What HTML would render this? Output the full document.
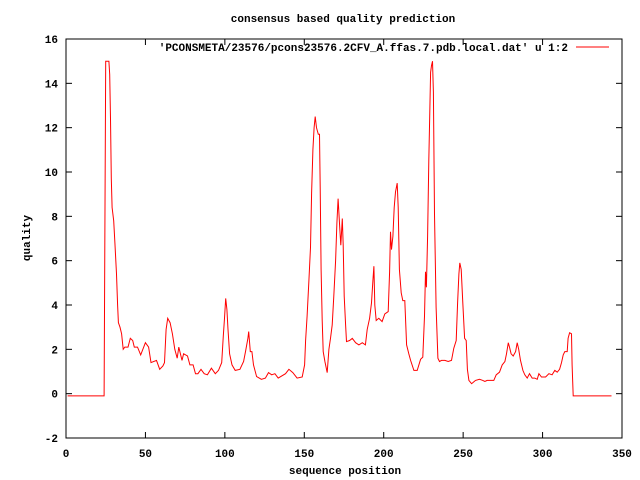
<!DOCTYPE html>
<html><head><meta charset="utf-8"><style>
html,body{margin:0;padding:0;background:#fff}
svg{display:block}
text{font-family:"Liberation Mono",monospace;font-size:11px;font-weight:bold;fill:#000}
</style></head><body>
<svg id="chart" width="640" height="480">
<rect x="0" y="0" width="640" height="480" fill="#fff"/>
<text x="343" y="22" text-anchor="middle">consensus based quality prediction</text>
<text x="345" y="474" text-anchor="middle">sequence position</text>
<text transform="translate(30,238) rotate(-90)" text-anchor="middle">quality</text>
<g id="ticks"></g>
<g>
<text x="568" y="51" text-anchor="end">'PCONSMETA/23576/pcons23576.2CFV_A.ffas.7.pdb.local.dat' u 1:2</text>
<line x1="576" y1="47" x2="609" y2="47" stroke="#f00" stroke-width="1"/>
</g>
<polyline id="series" fill="none" stroke="#f00" stroke-width="1"/>
<rect x="66" y="39" width="556" height="399" fill="none" stroke="#000" stroke-width="1"/>
</svg>
<script>
const xTicks=[0,50,100,150,200,250,300,350];
const yTicks=[-2,0,2,4,6,8,10,12,14,16];
const positions=[1,24,24.5,25,27,27.5,28,28.5,29,30,30.8,31.8,32.5,33,34,35,36,37,39,40.5,42,43,45,47,50,52,53.5,57,59,61,62,63,64,65.5,67,68.5,70,71,73,74,76.5,78,80,81.5,83,85,87,89,91.5,94,96,98,99,99.8,100.5,101.3,102,103,104.5,106.5,109.5,111.8,113,114.5,115,116,117,118,120,123,125.5,127.5,129.5,131.5,133.6,
138.2,140.3,142.8,145.5,148.7,150.2,150.8,151.8,152.9,153.9,154.6,155.4,156.2,156.9,157.7,158.8,159.6,160,160.6,161.3,161.9,163,164.4,165.5,166.5,167.6,168.6,169.7,170.5,171.3,172.2,173,173.9,174.5,175.1,176,176.6,178.5,180.2,182.3,184.4,186.5,188.5,189.6,191.1,192.3,193.2,193.8,194.4,195.3,196.9,199,200.7,202.8,203.7,204.3,204.9,205.8,206.6,207.4,208.5,209.1,209.9,211,212,213.3,214.4,215.8,216.9,219,221.1,223.2,224.6,225.7,226.3,226.9,227.6,228.4,229.5,230.1,230.7,231.3,232,233,234.1,235.1,236.4,238.5,240.6,242.7,244.1,245.6,246.5,247.3,247.9,248.8,249.8,250.9,251.9,252.7,253.6,255.3,257.8,260.3,262.4,263.7,265.1,267.2,269.3,270.8,272.9,274.6,276.3,277.3,278.4,279.2,280.2,281.5,283,284,285,286.1,287.6,288.8,290.3,291.8,293.5,295.1,296.6,297.7,299.3,301.9,304,306,307.7,309.2,310.7,311.9,313,314,315.5,316.1,317,318.2,318.6,319.3,343.4];
const quality=[-0.1,-0.1,7.5,15,15,14.4,12.4,9.7,8.4,7.8,6.8,5.4,4.0,3.2,3.0,2.7,2.0,2.1,2.1,2.5,2.4,2.1,2.1,1.75,2.3,2.1,1.4,1.5,1.1,1.25,1.4,2.9,3.4,3.2,2.7,2.0,1.6,2.1,1.5,1.8,1.7,1.3,1.3,0.9,0.9,1.1,0.9,0.85,1.15,0.9,1.05,1.4,2.6,3.4,4.3,3.8,2.9,1.8,1.3,1.05,1.1,1.45,1.9,2.5,2.8,1.9,1.9,1.3,0.77,0.65,0.7,0.95,0.85,0.9,0.7,
0.9,1.1,0.95,0.7,0.75,1.3,2.4,3.5,5.1,6.6,9.05,11.0,12.0,12.5,12.0,11.7,11.7,9.3,5.6,3.3,1.9,1.45,0.95,2.0,2.5,3.1,4.4,6.0,7.7,8.8,7.6,6.7,7.9,6.7,4.4,3.1,2.35,2.4,2.5,2.3,2.2,2.3,2.2,2.9,3.4,4.1,5.1,5.75,4.0,3.3,3.4,3.25,3.6,3.7,5.5,7.3,6.5,7.1,8.4,9.1,9.5,8.4,5.6,4.55,4.2,4.2,2.2,1.8,1.5,1.05,1.05,1.55,1.65,3.5,5.5,4.8,7.1,10.5,14.5,14.8,15.0,13.6,8.1,3.9,1.6,1.45,1.5,1.5,1.45,1.5,2.05,2.4,4.1,5.4,5.9,5.6,4.1,2.5,2.4,1.1,0.6,0.45,0.6,0.65,0.6,0.55,0.6,0.6,0.6,0.85,0.97,1.3,1.45,1.8,2.3,2.1,1.8,1.7,1.9,2.3,2.0,1.5,1.05,0.85,0.7,0.9,0.7,0.7,0.65,0.9,0.75,0.75,0.9,0.85,1.05,0.97,1.1,1.4,1.75,1.9,1.9,2.5,2.75,2.7,1.3,-0.1,-0.1];
const NS='http://www.w3.org/2000/svg';
function xs(v){return 66+v*(556/350);}
function ys(v){return 438-(v+2)*(399/18);}
const g=document.getElementById('ticks');
xTicks.forEach(t=>{
  const px=xs(t);
  [[438,432],[39,45]].forEach(p=>{
    const l=document.createElementNS(NS,'line');
    l.setAttribute('x1',px);l.setAttribute('x2',px);l.setAttribute('y1',p[0]);l.setAttribute('y2',p[1]);
    l.setAttribute('stroke','#000');
    
    
    g.appendChild(l);
  });
  const tx=document.createElementNS(NS,'text');
  tx.setAttribute('x',px);tx.setAttribute('y',457);tx.setAttribute('text-anchor','middle');
  tx.textContent=t;
  
  
  g.appendChild(tx);
});
yTicks.forEach(t=>{
  const py=ys(t);
  [[66,72],[622,616]].forEach(p=>{
    const l=document.createElementNS(NS,'line');
    l.setAttribute('x1',p[0]);l.setAttribute('x2',p[1]);l.setAttribute('y1',py);l.setAttribute('y2',py);
    l.setAttribute('stroke','#000');
    
    
    g.appendChild(l);
  });
  const tx=document.createElementNS(NS,'text');
  tx.setAttribute('x',58);tx.setAttribute('y',py+4);tx.setAttribute('text-anchor','end');
  tx.textContent=t;
  
  
  g.appendChild(tx);
});
const n=Math.min(positions.length,quality.length);
const pts=[];
for(let i=0;i<n;i++){pts.push(xs(positions[i]).toFixed(1)+','+ys(quality[i]).toFixed(1));}
document.getElementById('series').setAttribute('points',pts.join(' '));
</script>
</body></html>
